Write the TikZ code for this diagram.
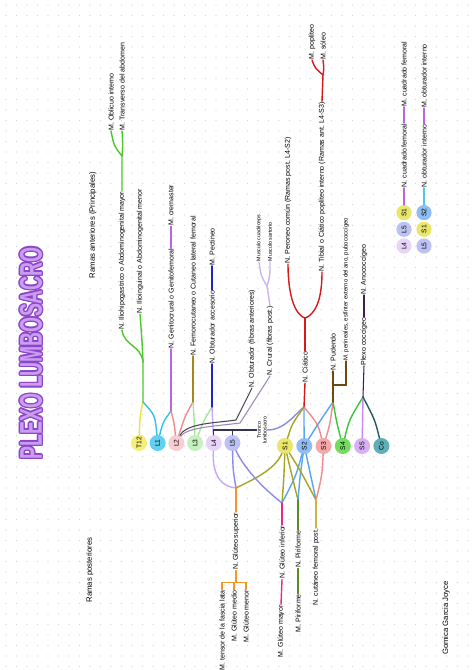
\documentclass[tikz,border=0pt]{standalone}
\usepackage{fontspec}
\setmainfont{Liberation Sans}
\usepackage{graphicx}
\usepackage{xcolor}
\usepackage{tikz}
\usetikzlibrary{arrows.meta,positioning,calc}

\definecolor{cT12f}{HTML}{F5EE78}
\definecolor{cL1f}{HTML}{62D0EE}
\definecolor{cL2f}{HTML}{F9CED2}
\definecolor{cL3f}{HTML}{C6F1BE}
\definecolor{cL4f}{HTML}{E7D4F7}
\definecolor{cL5f}{HTML}{BCC2F3}
\definecolor{cS1f}{HTML}{EAE66C}
\definecolor{cS2f}{HTML}{8FBDF3}
\definecolor{cS3f}{HTML}{F5A8A8}
\definecolor{cS4f}{HTML}{72DC5E}
\definecolor{cS5f}{HTML}{D9B0F3}
\definecolor{cCof}{HTML}{5FAFB7}
\definecolor{cT12}{HTML}{F0E238}
\definecolor{cL1}{HTML}{35C2EA}
\definecolor{cL2}{HTML}{F28A8C}
\definecolor{cL3}{HTML}{A6E898}
\definecolor{cL4}{HTML}{C8A8F2}
\definecolor{cL5}{HTML}{8A8CEA}
\definecolor{cS1}{HTML}{A6A420}
\definecolor{cS2}{HTML}{56A6F2}
\definecolor{cS3}{HTML}{F08C8C}
\definecolor{cS4}{HTML}{3CC43A}
\definecolor{cS5}{HTML}{C688F2}
\definecolor{cCo}{HTML}{1F5A5F}
\definecolor{cIh}{HTML}{4DC72B}
\definecolor{cGf}{HTML}{B565E6}
\definecolor{cFc}{HTML}{A8861E}
\definecolor{cOa}{HTML}{1E24C6}
\definecolor{cObt}{HTML}{4A4550}
\definecolor{cCr}{HTML}{9A88B8}
\definecolor{cCrY}{HTML}{CBB6F2}
\definecolor{cCia}{HTML}{D41A1A}
\definecolor{cPud}{HTML}{6E4A12}
\definecolor{cCoc}{HTML}{3E1E4E}
\definecolor{cGs}{HTML}{F3962A}
\definecolor{cGi}{HTML}{E8288E}
\definecolor{cPir}{HTML}{5E8A22}
\definecolor{cFp}{HTML}{CDB54A}
\definecolor{cBrk}{HTML}{34344E}
\definecolor{cOi}{HTML}{4CC8E8}
\definecolor{cTitle}{HTML}{C99DF2}
\definecolor{cTitleLine}{HTML}{8E44C9}
\definecolor{cDot}{HTML}{D3D3D3}

\newcommand{\lblfont}{\fontsize{10}{11}\selectfont}
\newcommand{\smlfont}{\fontsize{7.5}{8}\selectfont}
\newcommand{\headfont}{\fontsize{11}{12}\selectfont}
\newcommand{\vertfont}{\fontsize{9.5}{10}\selectfont}
\newcommand{\plexotitle}{\resizebox{10.6cm}{1.1cm}{\bfseries PLEXO LUMBOSACRO}}

\tikzset{
  vert/.style={circle, fill=#1, minimum size=0.8cm, inner sep=0pt, font=\vertfont},
  qvert/.style={circle, fill=#1, minimum size=0.76cm, inner sep=0pt, font=\vertfont},
  lbl/.style={rotate=90, anchor=west, inner sep=0.8pt, font=\lblfont},
  nrv/.style={draw=#1, line width=2pt, line cap=round},
  nrvthin/.style={draw=#1, line width=1.5pt, line cap=round}
}

\begin{document}
\begin{tikzpicture}[x=0.05cm, y=-0.05cm]
  \useasboundingbox (0,0) rectangle (474,670);
  \fill[white] (0,0) rectangle (474,670);
  \foreach \gx in {6,16.5,...,474}
    \foreach \gy in {5,15.5,...,670}
      \fill[cDot] (\gx,\gy) circle (0.6);

  \foreach \dx/\dy [count=\k] in {-1.4/0,1.4/0,0/-1.4,0/1.4,-1/-1,1/1,-1/1,1/-1}
    \node[rotate=90, inner sep=0pt, text=cTitleLine] (tline\k) at ($(31,353)+(\dx,\dy)$) {\plexotitle};
  \node[rotate=90, inner sep=0pt, text=cTitle] (title) at (31,353) {\plexotitle};

  \node[lbl, anchor=center, font=\headfont] (ramasant) at (93,225) {Ramas anteriores (Principales)};
  \node[lbl, anchor=center, font=\headfont] (ramaspost) at (90,570) {Ramas posteriores};
  \node[lbl, anchor=center, font=\headfont] (firma) at (446,618) {Gomica Garcia Joyce};

  \node[vert=cT12f] (T12) at (139,443) {\rotatebox{90}{T12}};
  \node[vert=cL1f, right=0.12cm of T12] (L1) {\rotatebox{90}{L1}};
  \node[vert=cL2f, right=0.12cm of L1] (L2) {\rotatebox{90}{L2}};
  \node[vert=cL3f, right=0.12cm of L2] (L3) {\rotatebox{90}{L3}};
  \node[vert=cL4f, right=0.12cm of L3] (L4) {\rotatebox{90}{L4}};
  \node[vert=cL5f, right=0.12cm of L4] (L5) {\rotatebox{90}{L5}};
  \node[vert=cS1f] (S1) at (285,446) {\rotatebox{90}{S1}};
  \node[vert=cS2f, right=0.15cm of S1] (S2) {\rotatebox{90}{S2}};
  \node[vert=cS3f, right=0.15cm of S2] (S3) {\rotatebox{90}{S3}};
  \node[vert=cS4f, right=0.15cm of S3] (S4) {\rotatebox{90}{S4}};
  \node[vert=cS5f, right=0.15cm of S4] (S5) {\rotatebox{90}{S5}};
  \node[vert=cCof, right=0.15cm of S5] (Co) {\rotatebox{90}{Co}};

  \node[lbl] (iliohipo) at (122,330) {N. Iliohipogastrico o Abdominogenital mayor};
  \node[lbl] (ilioing) at (140,314) {N. Ilioinguinal o Abdominogenital menor};
  \node[lbl] (oblicuo) at (111,131) {M. Oblicuo interno};
  \node[lbl] (transverso) at (122,131) {M. Transverso del abdomen};
  \node[lbl] (genito) at (171,349) {N. Genitocrural o Genitofemoral};
  \node[lbl] (cremaster) at ($(genito.east)+(0,-22)$) {M. cremaster};
  \node[lbl] (femoro) at (193,356) {N. Femorocutaneo o Cutaneo lateral femoral};
  \node[lbl] (obtacc) at (212,364) {N. Obturador accesorio};
  \node[lbl] (pectineo) at ($(obtacc.east)+(0,-24)$) {M. Pectineo};
  \node[lbl] (obturador) at (252,388) {N. Obturador (fibras anteriores)};
  \node[lbl] (crural) at (270,376) {N. Crural (fibras post.)};
  \node[lbl, font=\smlfont] (cuadri) at (259,262) {Musculo cuadriceps};
  \node[lbl, font=\smlfont] (sartorio) at (270,262) {Musculo sartorio};
  \node[lbl, anchor=center, align=center, font=\smlfont] (tronco) at (262,430) {Tronco\\lumbosacro};
  \node[lbl] (ciatico) at (305,383) {N. Ciático};
  \node[lbl] (peroneo) at (288,264) {N. Peroneo común (Ramas post. L4-S2)};
  \node[lbl] (tibial) at (322,272) {N. Tibial o Ciático poplíteo interno (Ramas ant. L4-S3)};
  \node[lbl] (popliteo) at (312,60) {M. poplíteo};
  \node[lbl] (soleo) at (323,60) {M. sóleo};
  \node[lbl] (pudendo) at (333,371) {N. Pudendo};
  \node[lbl, font=\fontsize{8.5}{9}\selectfont] (perine) at (346,361) {M. perineales, esfínter externo del ano, pubococcígeo};
  \node[lbl] (plexcoc) at (364,366) {Plexo coccígeo};
  \node[lbl] (anococ) at ($(plexcoc.east)+(0,-22)$) {N. Anococcígeo};

  \node[qvert=cL4f] (qL4) at (404,246) {\rotatebox{90}{L4}};
  \node[qvert=cL5f, above=0.06cm of qL4] (qL5) {\rotatebox{90}{L5}};
  \node[qvert=cS1f, above=0.06cm of qL5] (qS1) {\rotatebox{90}{S1}};
  \node[lbl] (cuadN) at (404,188) {N. cuadrado femoral};
  \node[lbl] (cuadM) at ($(cuadN.east)+(0,-16)$) {M. cuadrado femoral};
  \node[qvert=cL5f] (oL5) at (424,246) {\rotatebox{90}{L5}};
  \node[qvert=cS1f, above=0.06cm of oL5] (oS1) {\rotatebox{90}{S1}};
  \node[qvert=cS2f, above=0.06cm of oS1] (oS2) {\rotatebox{90}{S2}};
  \node[lbl] (obtN) at (424,188) {N. obturador interno};
  \node[lbl] (obtM) at ($(obtN.east)+(0,-16)$) {M. obturador interno};

  \node[lbl, anchor=east] (glutsup) at (236,512) {N. Glúteo superior};
  \coordinate (bGS) at ($(glutsup.west)+(0,12)$);
  \node[lbl, anchor=east] (tensor) at ($(bGS)+(-14,7)$) {M. tensor de la fascia lata};
  \node[lbl, anchor=east] (gmedio) at ($(bGS)+(-2,7)$) {M. Glúteo medio};
  \node[lbl, anchor=east] (gmenor) at ($(bGS)+(10,7)$) {M. Glúteo menor};
  \node[lbl, anchor=east] (glutinf) at (282,525) {N. Glúteo inferior};
  \node[lbl, anchor=east] (gmayor) at ($(glutinf.west)+(-1,25)$) {M. Glúteo mayor};
  \node[lbl, anchor=east] (piri) at (298,530) {N. Piriforme};
  \node[lbl, anchor=east] (mpiri) at ($(piri.west)+(0,25)$) {M. Piriforme};
  \node[lbl, anchor=east] (fempost) at (316,528) {N. cutáneo femoral post.};

  \coordinate (jIH) at (143,402);
  \coordinate (jGF) at (171,411);
  \coordinate (jFC) at (193,402);
  \coordinate (jOA) at (212,407);
  \coordinate (fIH) at (143,362);
  \coordinate (fOT) at (122,156);
  \coordinate (fCr) at (267,286);
  \coordinate (jCi) at (304,407);
  \coordinate (fCi) at ($(ciatico.east)+(0,-33)$);
  \coordinate (fTi) at (323,75);
  \coordinate (jPu) at (333,402);
  \coordinate (bPu) at (333,385);
  \coordinate (jCo) at (363,397);
  \coordinate (jGS) at (236,488);
  \coordinate (jGI) at (282,503);
  \coordinate (jPi) at (298,500);
  \coordinate (jFP) at (316,500);

  \draw[nrv=cT12] (T12) .. controls (140,415) .. (jIH);
  \draw[nrv=cL1] (L1) .. controls (155,415) .. (jIH);
  \draw[nrv=cL1] (L1) .. controls (163,422) .. (jGF);
  \draw[nrv=cL2] (L2) .. controls (174,422) .. (jGF);
  \draw[nrv=cL2] (L2) .. controls (185,416) .. (jFC);
  \draw[nrv=cL3] (L3) .. controls (194,416) .. (jFC);
  \draw[nrv=cL3] (L3) .. controls (204,420) .. (jOA);
  \draw[nrv=cL4] (L4) -- (jOA);

  \draw[nrv=cIh] (jIH) -- (fIH) .. controls (141,345) and (124,346) .. (iliohipo.west);
  \draw[nrv=cIh] (fIH) .. controls (142,340) .. (ilioing.west);
  \draw[nrv=cIh] (iliohipo.east) -- (fOT) .. controls (114,146) .. (oblicuo.west);
  \draw[nrv=cIh] (fOT) .. controls (123,145) .. (transverso.west);
  \draw[nrv=cGf] (jGF) -- (genito.west);
  \draw[nrv=cGf] (genito.east) -- (cremaster.west);
  \draw[nrv=cFc] (jFC) -- (femoro.west);
  \draw[nrv=cOa] (jOA) -- (obtacc.west);
  \draw[nrv=cOa] (obtacc.east) -- (pectineo.west);

  \draw[nrvthin=cObt] (L2) .. controls (186,423) and (216,423) .. (236,420) -- (obturador.west);
  \draw[nrvthin=cCr] (L2) .. controls (187,427) and (218,426) .. (240,423) -- (crural.west);
  \draw[nrv=cCrY] (crural.east) -- (fCr) .. controls (261,276) .. (cuadri.west);
  \draw[nrv=cCrY] (fCr) .. controls (270,276) .. (sartorio.west);
  \draw[nrvthin=cBrk] (L4) |- (tronco.north);
  \draw[nrvthin=cBrk] (L5) -- (L5 |- tronco.north);

  \draw[nrv=cL5] (tronco.south) .. controls (285,430) and (296,413) .. (jCi);
  \draw[nrv=cS1] (S1) .. controls (292,424) .. (jCi);
  \draw[nrv=cS2] (S2) .. controls (304,425) .. (jCi);
  \draw[nrv=cS3] (S3) .. controls (318,424) .. (jCi);
  \draw[nrv=cCia] (jCi) -- (ciatico.west);
  \draw[nrv=cCia] (ciatico.east) -- (fCi);
  \draw[nrv=cCia] (fCi) .. controls ($(fCi)+(-15,-6)$) and ($(peroneo.west)+(0,16)$) .. (peroneo.west);
  \draw[nrv=cCia] (fCi) .. controls ($(fCi)+(15,-6)$) and ($(tibial.west)+(0,16)$) .. (tibial.west);
  \draw[nrv=cCia] (tibial.east) -- (fTi) .. controls (315,68) .. (popliteo.west);
  \draw[nrv=cCia] (fTi) .. controls (324,68) .. (soleo.west);

  \draw[nrv=cS2] (S2) .. controls (318,424) .. (jPu);
  \draw[nrv=cS3] (S3) .. controls (330,424) .. (jPu);
  \draw[nrv=cS4] (S4) .. controls (337,424) .. (jPu);
  \draw[nrvthin=cPud] (jPu) -- (bPu) -- (pudendo.west);
  \draw[nrvthin=cPud] (bPu) -- (perine.west |- bPu) -- (perine.west);

  \draw[nrv=cS4] (S4) .. controls (349,420) .. (jCo);
  \draw[nrv=cS5] (S5) -- (jCo);
  \draw[nrv=cCo] (Co) .. controls (375,420) .. (jCo);
  \draw[nrvthin=cCoc] (jCo) -- (plexcoc.west);
  \draw[nrvthin=cCoc] (plexcoc.east) -- (anococ.west);

  \draw[nrv=cGf] (qS1) -- (cuadN.west);
  \draw[nrv=cGf] (cuadN.east) -- (cuadM.west);
  \draw[nrv=cOi] (oS2) -- (obtN.west);
  \draw[nrv=cGf] (obtN.east) -- (obtM.west);

  \draw[nrv=cL4] (L4) .. controls (212,476) and (222,487) .. (jGS);
  \draw[nrv=cL5] (L5) .. controls (233,470) .. (jGS);
  \draw[nrv=cS1] (S1) .. controls (275,470) and (252,480) .. (jGS);
  \draw[nrv=cGs] (jGS) -- (glutsup.east);
  \draw[nrv=cGs] (glutsup.west) -- (bGS);
  \draw[nrv=cGs] (tensor.east) -- ++(0,-7) -| (gmenor.east);
  \draw[nrv=cGs] (gmedio.east) -- ++(0,-7);

  \draw[nrv=cL5] (L5) .. controls (246,472) and (268,492) .. (jGI);
  \draw[nrv=cS1] (S1) .. controls (284,476) .. (jGI);
  \draw[nrv=cS2] (S2) .. controls (296,476) .. (jGI);
  \draw[nrv=cGi] (jGI) -- (glutinf.east);
  \draw[nrv=cGi] (glutinf.west) -- (gmayor.east);

  \draw[nrv=cS1] (S1) .. controls (292,476) .. (jPi);
  \draw[nrv=cS2] (S2) .. controls (300,476) .. (jPi);
  \draw[nrv=cPir] (jPi) -- (piri.east);
  \draw[nrv=cPir] (piri.west) -- (mpiri.east);

  \draw[nrv=cS1] (S1) .. controls (300,470) .. (jFP);
  \draw[nrv=cS2] (S2) .. controls (311,476) .. (jFP);
  \draw[nrv=cS3] (S3) .. controls (322,476) .. (jFP);
  \draw[nrv=cFp] (jFP) -- (fempost.east);
\end{tikzpicture}
\end{document}
